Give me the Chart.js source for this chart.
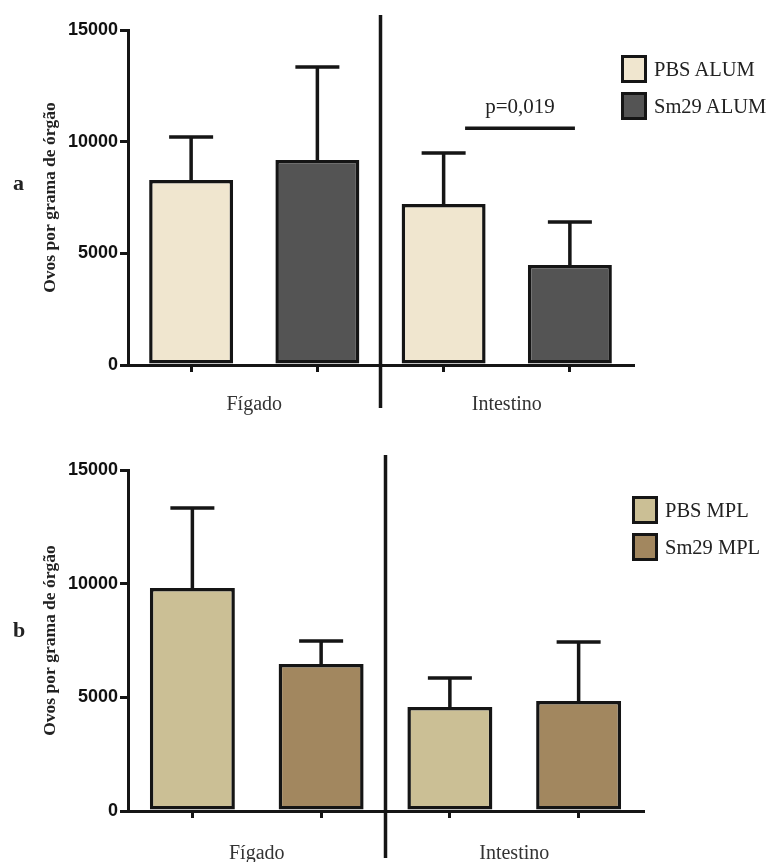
<!DOCTYPE html>
<html><head><meta charset="utf-8">
<script src="https://cdn.jsdelivr.net/npm/chart.js@4.4.0/dist/chart.umd.min.js"></script>
<style>
html,body{margin:0;padding:0;background:#fff;}
#wrap{position:relative;width:771px;height:862px;overflow:hidden;background:#fff;}
.panel{position:absolute;left:0;width:771px;}
canvas{display:block;}
.letter{position:absolute;font:bold 22px 'Liberation Serif',serif;color:#222;line-height:1;}
.sw{position:absolute;width:26px;height:28px;box-sizing:border-box;border:3.5px solid #151515;}
.lt{position:absolute;font:20.5px 'Liberation Serif',serif;color:#222;line-height:28px;white-space:nowrap;}
</style></head>
<body><div id="wrap">
<div class="panel" style="top:0;height:430px"><canvas id="ca" width="771" height="430"></canvas></div>
<div class="panel" style="top:430px;height:432px"><canvas id="cb" width="771" height="432"></canvas></div>
<div class="letter" style="left:13px;top:172px">a</div>
<div class="letter" style="left:13px;top:619px">b</div>
</div>
<script>
// ---- data ----
const groups = ['Fígado', 'Intestino'];
const barLabels = ['Fígado PBS', 'Fígado Sm29', 'Intestino PBS', 'Intestino Sm29'];
const yTicks = [0, 5000, 10000, 15000];
const yTitle = 'Ovos por grama de órgão';

const seriesA = ['PBS ALUM', 'Sm29 ALUM'];
const pbsAlum = [8280, 7210];
const pbsAlumErr = [10210, 9490];
const sm29Alum = [9180, 4480];
const sm29AlumErr = [13340, 6400];
const sigA = { text: 'p=0,019', value: 10600, from: 2.17, to: 3.04 };

const seriesB = ['PBS MPL', 'Sm29 MPL'];
const pbsMpl = [9810, 4580];
const pbsMplErr = [13330, 5850];
const sm29Mpl = [6470, 4840];
const sm29MplErr = [7480, 7430];

const colorsA = ['#f0e6cf', '#545454'];
const colorsB = ['#cbbf95', '#a2875f'];
const INK = '#151515';

// ---- plugins ----
const errorBars = {
  id: 'errorBars',
  afterDatasetsDraw(chart) {
    const { ctx } = chart; const ys = chart.scales.y;
    chart.data.datasets.forEach((ds, di) => {
      const meta = chart.getDatasetMeta(di);
      ds.errTop.forEach((e, i) => {
        if (e == null) return;
        const bar = meta.data[i];
        const x = bar.x, yb = bar.y, ye = ys.getPixelForValue(e);
        ctx.save();
        ctx.strokeStyle = INK; ctx.lineWidth = 3.5; ctx.lineCap = 'butt';
        ctx.beginPath();
        ctx.moveTo(x, yb); ctx.lineTo(x, ye);
        ctx.moveTo(x - 22, ye); ctx.lineTo(x + 22, ye);
        ctx.stroke();
        ctx.restore();
      });
    });
  }
};

const decor = {
  id: 'decor',
  afterDraw(chart, args, o) {
    const { ctx } = chart; const xs = chart.scales.x, ys = chart.scales.y;
    const xm = (xs.getPixelForValue(1) + xs.getPixelForValue(2)) / 2;
    ctx.save();
    ctx.strokeStyle = INK; ctx.lineWidth = 3.5;
    ctx.beginPath(); ctx.moveTo(xm, o.sepTop); ctx.lineTo(xm, o.sepBottom); ctx.stroke();
    if (o.sig) {
      const x1 = xs.getPixelForValue(o.sig.from), x2 = xs.getPixelForValue(o.sig.to);
      const yy = ys.getPixelForValue(o.sig.value);
      ctx.lineWidth = 3.5;
      ctx.beginPath(); ctx.moveTo(x1, yy); ctx.lineTo(x2, yy); ctx.stroke();
      ctx.fillStyle = '#222';
      ctx.font = "21px 'Liberation Serif', serif";
      ctx.textAlign = 'center'; ctx.textBaseline = 'alphabetic';
      ctx.fillText(o.sig.text, (x1 + x2) / 2, yy - 15);
    }
    ctx.restore();
  }
};

function makePanel(id, names, vals, errs, colors, cfg) {
  const ds = names.map((n, si) => ({
    label: n,
    data: barLabels.map((_, k) => (k % 2 === si) ? vals[si][k >> 1] : null),
    errTop: barLabels.map((_, k) => (k % 2 === si) ? errs[si][k >> 1] : null),
    backgroundColor: colors[si],
    borderColor: INK,
    borderWidth: 3.5,
    borderSkipped: false,
    barPercentage: cfg.barPct,
    categoryPercentage: 1,
    grouped: false
  }));
  return new Chart(document.getElementById(id), {
    type: 'bar',
    data: { labels: barLabels, datasets: ds },
    options: {
      responsive: false, animation: false, events: [],
      layout: { padding: { top: cfg.top, right: cfg.right, left: 0, bottom: 0 } },
      plugins: { legend: { display: false }, tooltip: { enabled: false }, decor: cfg.decor },
      scales: {
        x: {
          type: 'category', position: 'bottom', weight: 0, offset: true,
          grid: { display: true, offset: false, drawOnChartArea: false, drawTicks: true, tickLength: 7, lineWidth: 3, color: INK },
          border: { display: true, width: 3, color: INK },
          ticks: { display: false },
          afterFit(s) { s.height = cfg.xh; }
        },
        xg: {
          type: 'category', labels: groups, position: 'bottom', weight: 1, offset: true,
          grid: { display: false, drawTicks: false }, border: { display: false },
          ticks: { font: { family: 'Liberation Serif', size: 20 }, color: '#333', padding: cfg.gpad, autoSkip: false, maxRotation: 0 },
          afterFit(s) { s.height = cfg.gh; }
        },
        y: {
          min: 0, max: 15000,
          afterBuildTicks(s) { s.ticks = yTicks.map(v => ({ value: v })); },
          grid: { display: true, drawOnChartArea: false, drawTicks: true, tickLength: 8, lineWidth: 3, color: INK },
          border: { display: true, width: 3, color: INK },
          ticks: { font: { family: 'Liberation Sans', size: 18, weight: 'bold' }, color: '#111', padding: 2, callback: v => String(v) },
          title: { display: true, text: yTitle, font: { family: 'Liberation Serif', size: 17.5, weight: 'bold' }, color: '#222', padding: { top: 40, bottom: 0 } },
          afterFit(s) { s.width = cfg.yw; }
        }
      }
    },
    plugins: [errorBars, decor]
  });
}

function legend(names, colors, left, top) {
  const wrap = document.getElementById('wrap');
  names.forEach((n, i) => {
    const sw = document.createElement('div');
    sw.className = 'sw'; sw.style.left = left + 'px'; sw.style.top = (top + i * 37) + 'px';
    sw.style.background = colors[i];
    wrap.appendChild(sw);
    const t = document.createElement('div');
    t.className = 'lt'; t.textContent = n;
    t.style.left = (left + 33) + 'px'; t.style.top = (top + i * 37) + 'px';
    wrap.appendChild(t);
  });
}

makePanel('ca', seriesA, [pbsAlum, sm29Alum], [pbsAlumErr, sm29AlumErr], colorsA,
  { top: 30, right: 138, yw: 128, xh: 8, gh: 57, gpad: 20, barPct: 0.665,
    decor: { sepTop: 15, sepBottom: 408, sig: sigA } });
makePanel('cb', seriesB, [pbsMpl, sm29Mpl], [pbsMplErr, sm29MplErr], colorsB,
  { top: 40, right: 128, yw: 128, xh: 8, gh: 43, gpad: 23, barPct: 0.66,
    decor: { sepTop: 25, sepBottom: 428, sig: null } });
legend(seriesA, colorsA, 621, 55);
legend(seriesB, colorsB, 632, 496);
</script>
</body></html>
